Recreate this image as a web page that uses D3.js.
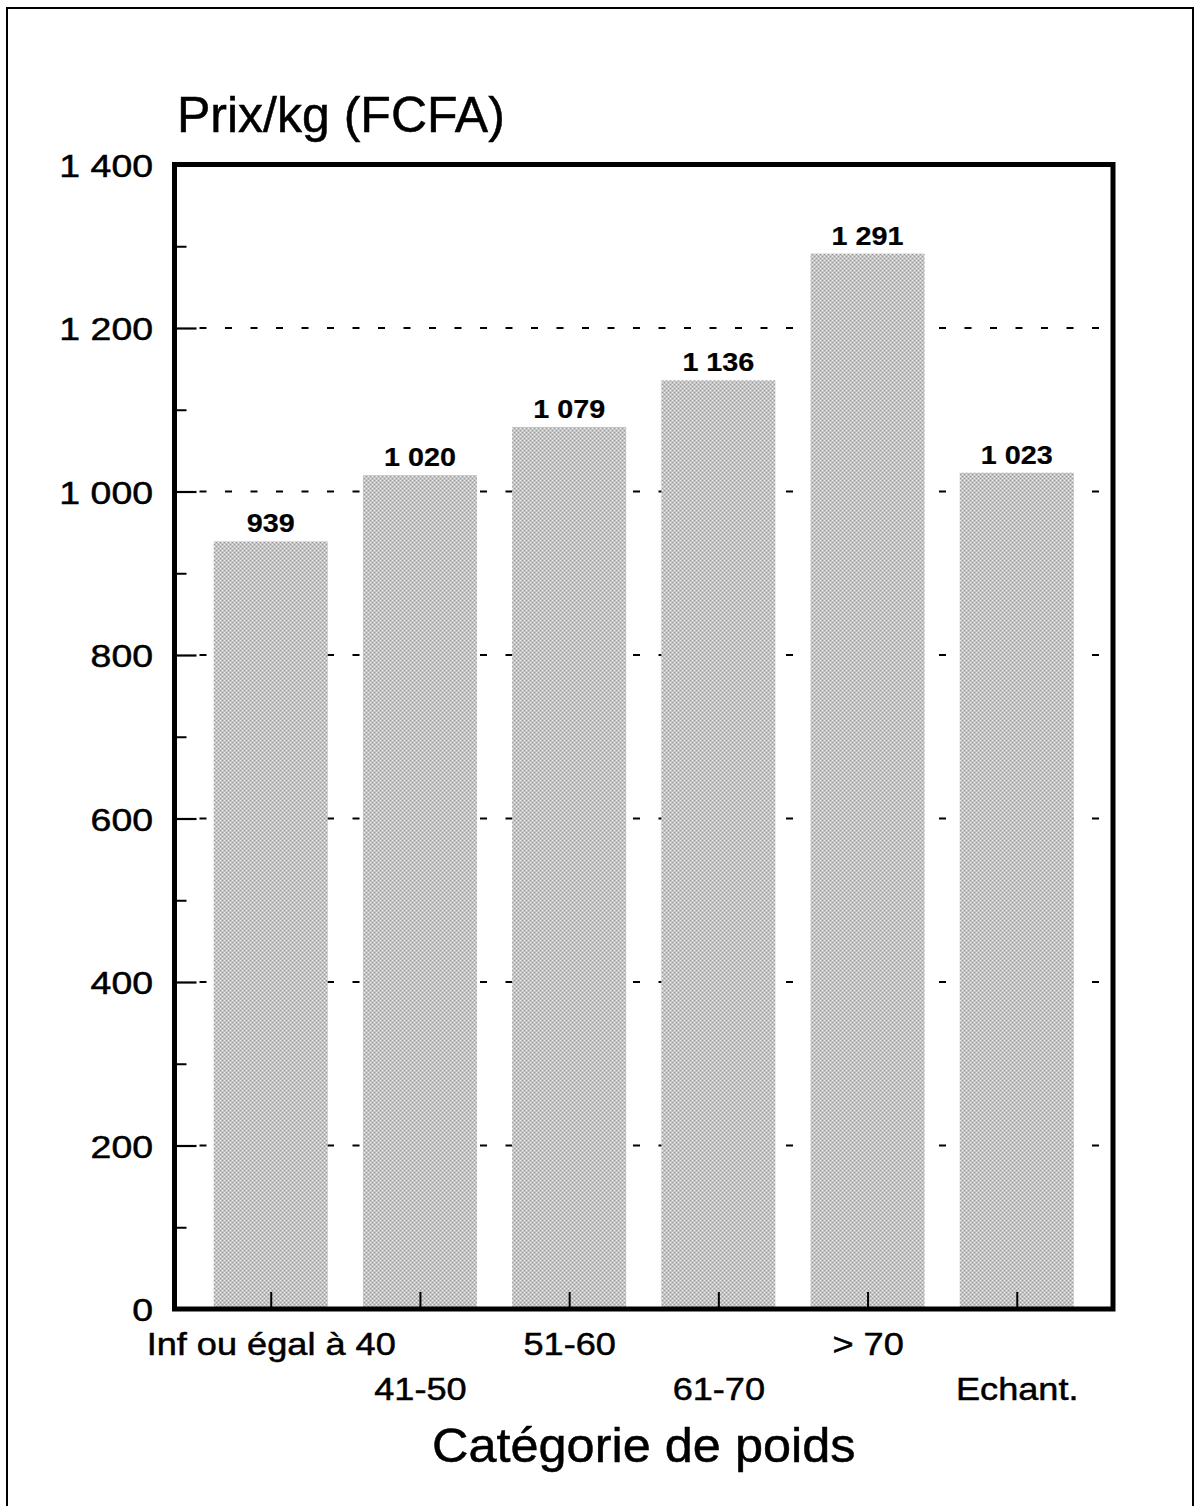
<!DOCTYPE html>
<html>
<head>
<meta charset="utf-8">
<script src="https://cdn.jsdelivr.net/npm/d3@7"></script>
<style>
  body { margin: 0; background: #fff; }
  text { font-family: "Liberation Sans", Arial, Helvetica, sans-serif; fill: #000; stroke: #000; stroke-width: 0.5px; }
</style>
</head>
<body>
<svg class="plot" width="1201" height="1506"></svg>
<script>
// data
var categories = ["Inf ou égal à 40", "41-50", "51-60", "61-70", "> 70", "Echant."];
var prices = [939, 1020, 1079, 1136, 1291, 1023];
var yMajorTicks = [0, 200, 400, 600, 800, 1000, 1200, 1400];
var yMinorTicks = [100, 300, 500, 700, 900, 1100, 1300];
var yGridTicks = [200, 400, 600, 800, 1000, 1200];

var svg = d3.select(".plot");

// plot frame edges (centre of the thick border line)
var frame = {left: 174.5, right: 1113, top: 164.5, bottom: 1309};
var plotW = frame.right - frame.left,
    plotH = frame.bottom - frame.top;

var data = categories.map(function(c, i) { return {cat: c, price: prices[i], i: i}; });

// space as thousands separator, french style
var fr = d3.formatLocale({decimal: ",", thousands: " ", grouping: [3], currency: ["", " FCFA"]});
var fmt = fr.format(",d");

var x = d3.scalePoint().domain(categories).range([0, plotW]).padding(0.645);
var y = d3.scaleLinear().domain([0, 1400]).range([plotH, 0]);
var barW = 114;

// halftone fill for the bars
var defs = svg.append("defs");
var pat = defs.append("pattern")
    .attr("id", "dots")
    .attr("patternUnits", "userSpaceOnUse")
    .attr("width", 4).attr("height", 4);
pat.append("rect").attr("width", 4).attr("height", 4).attr("fill", "#efefef");
[[0, 0], [4, 0], [0, 4], [4, 4], [2, 2]].forEach(function(p) {
  pat.append("circle").attr("cx", p[0]).attr("cy", p[1]).attr("r", 0.85).attr("fill", "#444");
});

// outer page frame (bottom edge runs off the page)
svg.append("rect")
    .attr("x", 7).attr("y", 8)
    .attr("width", 1186).attr("height", 1530)
    .attr("fill", "none").attr("stroke", "#000").attr("stroke-width", 2);

var g = svg.append("g").attr("transform", "translate(" + frame.left + "," + frame.top + ")");

// dashed gridlines (behind the bars)
g.selectAll(".grid")
    .data(yGridTicks)
    .enter().append("line")
    .attr("class", "grid")
    .attr("x1", 25).attr("x2", plotW - 4)
    .attr("y1", function(d) { return y(d); })
    .attr("y2", function(d) { return y(d); })
    .attr("stroke", "#000").attr("stroke-width", 2.2)
    .attr("stroke-dasharray", "7,18.5");

// y axis: labels + short solid major ticks
var yAxis = g.append("g")
    .attr("class", "axis axis--y")
    .call(d3.axisLeft(y).tickValues(yMajorTicks).tickSize(0).tickPadding(0).tickFormat(fmt));
yAxis.select(".domain").remove();
yAxis.selectAll(".tick text")
    .attr("x", -21.5 / 1.17)
    .attr("dy", "0.37em")
    .attr("transform", "scale(1.17,1)")
    .style("font-size", "32px");
yAxis.selectAll(".tick")
    .filter(function(d) { return d > 0 && d < 1400; })
    .append("line")
    .attr("x1", 0).attr("x2", 22)
    .attr("stroke", "#000").attr("stroke-width", 2.2);

// minor ticks pointing inward
var yMinor = g.append("g")
    .attr("class", "axis axis--minor")
    .call(d3.axisLeft(y).tickValues(yMinorTicks).tickSize(-12).tickFormat(""));
yMinor.select(".domain").remove();
yMinor.selectAll(".tick line").attr("stroke", "#000").attr("stroke-width", 2);

// bars
g.selectAll(".bar")
    .data(data)
    .enter().append("rect")
    .attr("class", "bar")
    .attr("x", function(d) { return x(d.cat) - barW / 2; })
    .attr("y", function(d) { return y(d.price); })
    .attr("width", barW)
    .attr("height", function(d) { return y(0) - y(d.price); })
    .attr("fill", "url(#dots)");

// value labels on top of the bars
g.selectAll(".val")
    .data(data)
    .enter().append("text")
    .attr("class", "val")
    .attr("transform", function(d) { return "translate(" + x(d.cat) + "," + (y(d.price) - 9) + ") scale(1.15,1)"; })
    .attr("text-anchor", "middle")
    .style("font-size", "25px")
    .style("font-weight", "bold")
    .style("stroke-width", "0.2px")
    .text(function(d) { return fmt(d.price); });

// x axis: ticks pointing up, labels on two staggered rows
var xAxis = g.append("g")
    .attr("class", "axis axis--x")
    .attr("transform", "translate(0," + plotH + ")")
    .call(d3.axisBottom(x).tickSizeInner(-17).tickSizeOuter(0));
xAxis.select(".domain").remove();
xAxis.selectAll(".tick line").attr("stroke", "#000").attr("stroke-width", 2);
xAxis.selectAll(".tick text")
    .attr("y", function(d, i) { return i % 2 === 0 ? 46 : 91; })
    .attr("dy", 0)
    .attr("transform", "scale(1.13,1)")
    .style("font-size", "32px");

// thick plot frame
g.append("rect")
    .attr("x", 0).attr("y", 0)
    .attr("width", plotW).attr("height", plotH)
    .attr("fill", "none").attr("stroke", "#000").attr("stroke-width", 5);

// titles
svg.append("text")
    .attr("x", 177).attr("y", 132)
    .style("font-size", "50px")
    .text("Prix/kg (FCFA)");

svg.append("text")
    .attr("transform", "translate(" + (frame.left + plotW / 2) + ",1462) scale(1.03,1)")
    .attr("text-anchor", "middle")
    .style("font-size", "49px")
    .text("Catégorie de poids");
</script>
</body>
</html>
